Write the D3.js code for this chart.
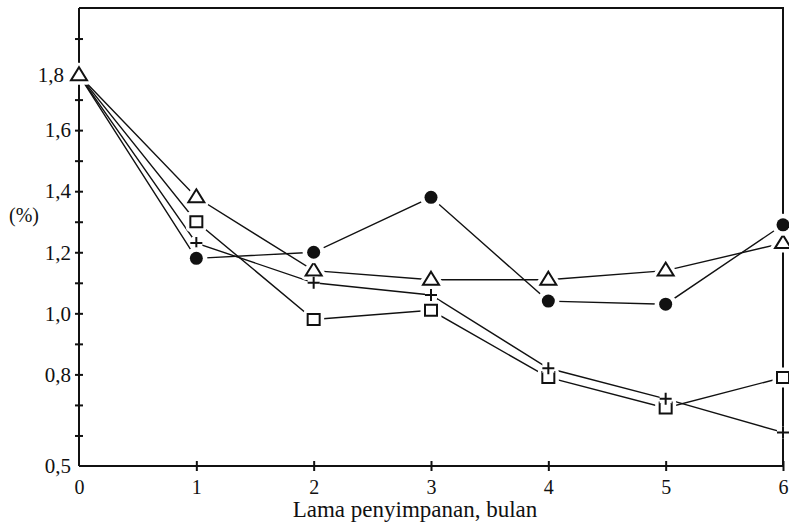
<!DOCTYPE html>
<html>
<head>
<meta charset="utf-8">
<script src="https://cdn.jsdelivr.net/npm/d3@7"></script>
<style>
  body { margin: 0; background: #fff; }
  svg { display: block; }
  text { font-family: "Liberation Serif", "Times New Roman", serif; fill: #111; }
</style>
</head>
<body>
<div id="graph"></div>
<script>
var months = [0, 1, 2, 3, 4, 5, 6];
var triangleSeries = [1.78, 1.38, 1.14, 1.11, 1.11, 1.14, 1.23];
var squareSeries = [1.78, 1.30, 0.98, 1.01, 0.79, 0.69, 0.79];
var plusSeries = [1.78, 1.23, 1.10, 1.06, 0.82, 0.72, 0.61];
var circleSeries = [1.78, 1.18, 1.20, 1.38, 1.04, 1.03, 1.29];

var yTicks = [0.5, 0.6, 0.7, 0.8, 0.9, 1.0, 1.1, 1.2, 1.3, 1.4, 1.5, 1.6, 1.7, 1.8, 1.9];
var yLabelled = [0.5, 0.8, 1.0, 1.2, 1.4, 1.6, 1.8];
var xTitle = 'Lama penyimpanan, bulan';
var yTitle = '(%)';

var width = 789, height = 525;
var margin = {top: 8, right: 6, bottom: 59, left: 79};
var serif = '"Liberation Serif", "Times New Roman", serif';

var locale = d3.formatLocale({decimal: ',', thousands: '.', grouping: [3], currency: ['', '']});
var fmt = locale.format('.1f');

var svg = d3.select('#graph').append('svg')
    .attr('width', width)
    .attr('height', height);

var x = d3.scaleLinear()
    .domain([0, 6])
    .range([margin.left, width - margin.right]);

var y = d3.scaleLinear()
    .domain([0.5, 2.0])
    .range([height - margin.bottom, margin.top]);

// frame: top and right edges
svg.append('path')
    .attr('d', 'M' + x(0) + ',' + y(2.0) + 'H' + x(6) + 'V' + y(0.5))
    .attr('fill', 'none')
    .attr('stroke', '#111')
    .attr('stroke-width', 2);

var xAxis = svg.append('g')
    .attr('transform', 'translate(0,' + y(0.5) + ')')
    .call(d3.axisBottom(x).tickValues(months).tickSize(5).tickSizeOuter(0).tickPadding(9)
      .tickFormat(d3.format('d')));

var yAxis = svg.append('g')
    .attr('transform', 'translate(' + x(0) + ',0)')
    .call(d3.axisLeft(y).tickValues(yTicks).tickSize(4).tickSizeOuter(0).tickPadding(4)
      .tickFormat(function(d) {
        return yLabelled.some(function(v) { return Math.abs(v - d) < 1e-6; }) ? fmt(d) : '';
      }));

[xAxis, yAxis].forEach(function(g) {
  g.attr('font-family', null);
  g.select('.domain').attr('stroke', '#111').attr('stroke-width', 2);
  g.selectAll('.tick line').attr('stroke', '#111').attr('stroke-width', 2);
  g.selectAll('text').attr('fill', '#111').style('font-family', serif);
});

// axis lines drawn as plain lines (full length)
xAxis.select('.domain').attr('d', 'M' + x(0) + ',0H' + x(6));
yAxis.select('.domain').attr('d', 'M0,' + y(0.5) + 'V' + y(2.0));

// ticks cross the axis
xAxis.selectAll('.tick line').attr('y1', -5);
xAxis.selectAll('.tick').filter(function(d) { return d === 0; }).select('line').remove();
xAxis.selectAll('.tick text').style('font-size', '20px');
yAxis.selectAll('.tick line').attr('x1', 4);
yAxis.selectAll('.tick').filter(function(d) { return d === 0.5; }).select('line').remove();
yAxis.selectAll('.tick text').style('font-size', '21px');
// 1,8 sits beside the starting marker
yAxis.selectAll('.tick').filter(function(d) { return Math.abs(d - 1.8) < 1e-6; })
    .select('text').attr('x', -15).attr('dy', '0.6em');

svg.append('text')
    .attr('x', 415)
    .attr('y', 517)
    .attr('text-anchor', 'middle')
    .style('font-family', serif)
    .style('font-size', '23px')
    .text(xTitle);

svg.append('text')
    .attr('x', 24)
    .attr('y', 222)
    .attr('text-anchor', 'middle')
    .style('font-family', serif)
    .style('font-size', '20px')
    .text(yTitle);

var series = [
  {name: 'triangle', values: triangleSeries},
  {name: 'square', values: squareSeries},
  {name: 'plus', values: plusSeries},
  {name: 'circle', values: circleSeries}
];

var line = d3.line()
    .x(function(d, i) { return x(months[i]); })
    .y(function(d) { return y(d); });

svg.append('g').selectAll('path')
    .data(series)
  .enter().append('path')
    .attr('d', function(d) { return line(d.values); })
    .attr('fill', 'none')
    .attr('stroke', '#111')
    .attr('stroke-width', 1.4);

function markerPath(name) {
  if (name === 'triangle') return 'M0,-8L8,5L-8,5Z';
  if (name === 'square') return 'M-6,-5.5H6V5.5H-6Z';
  if (name === 'plus') return 'M-6,0H6M0,-6V6';
  return null;
}

// markers; the shared start point only carries the triangle
var points = [];
series.forEach(function(s) {
  s.values.forEach(function(v, i) {
    if (i === 0 && s.name !== 'triangle') return;
    points.push({name: s.name, x: months[i], v: v});
  });
});

var node = svg.append('g').selectAll('.pt')
    .data(points)
  .enter().append('g')
    .attr('class', 'pt')
    .attr('transform', function(d) { return 'translate(' + x(d.x) + ',' + y(d.v) + ')'; });

// white halo leaves the little gap between line and marker
node.each(function(d) {
  var g = d3.select(this);
  if (d.name === 'circle') {
    g.append('circle').attr('r', 11).attr('fill', '#fff');
    g.append('circle').attr('r', 6.5).attr('fill', '#111');
  } else {
    g.append('path').attr('d', markerPath(d.name))
        .attr('fill', '#fff').attr('stroke', '#fff').attr('stroke-width', 9)
        .attr('stroke-linejoin', 'round');
    g.append('path').attr('d', markerPath(d.name))
        .attr('fill', d.name === 'plus' ? 'none' : '#fff')
        .attr('stroke', '#111').attr('stroke-width', 2);
  }
});
</script>
</body>
</html>
